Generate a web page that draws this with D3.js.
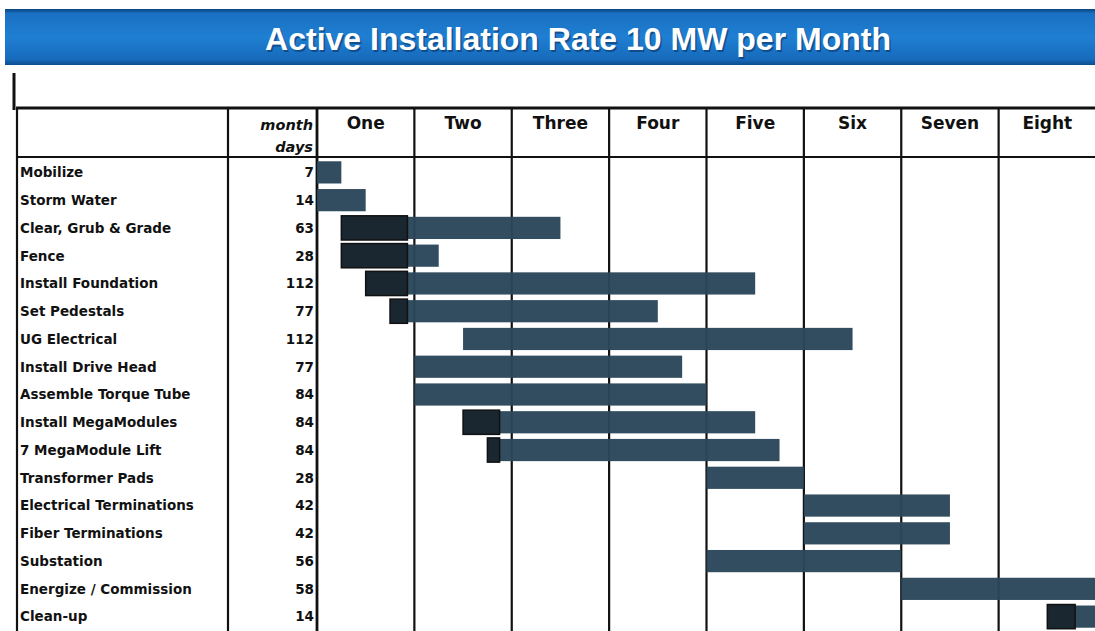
<!DOCTYPE html>
<html>
<head>
<meta charset="utf-8">
<script src="https://cdn.jsdelivr.net/npm/d3@7"></script>
<style>
  body { margin: 0; background: #fff; }
  svg { display: block; }
</style>
</head>
<body>
<div id="viz"></div>
<script>
const title = 'Active Installation Rate 10 MW per Month';
const months = ['One', 'Two', 'Three', 'Four', 'Five', 'Six', 'Seven', 'Eight'];
const tasks = ['Mobilize', 'Storm Water', 'Clear, Grub & Grade', 'Fence', 'Install Foundation',
  'Set Pedestals', 'UG Electrical', 'Install Drive Head', 'Assemble Torque Tube',
  'Install MegaModules', '7 MegaModule Lift', 'Transformer Pads', 'Electrical Terminations',
  'Fiber Terminations', 'Substation', 'Energize / Commission', 'Clean-up'];
const days = [7, 14, 63, 28, 112, 77, 112, 77, 84, 84, 84, 28, 42, 42, 56, 58, 14];
const starts = [0, 0, 7, 7, 14, 21, 42, 28, 28, 42, 49, 112, 140, 140, 112, 168, 210];
// dark label boxes left over on some bars (end day of box)
const tagTasks = ['Clear, Grub & Grade', 'Fence', 'Install Foundation', 'Set Pedestals',
  'Install MegaModules', '7 MegaModule Lift', 'Clean-up'];
const tagEnds = [26, 26, 26, 26, 52.5, 52.5, 218];
const daysPerMonth = 28;

(() => {
  let width = 1095, height = 631;
  let top = 108, headBottom = 157, left = 17, daysCol = 228, chartLeft = 317;

  let svg = d3.select('#viz')
    .append('svg')
    .attr('width', width)
    .attr('height', height);

  let total = months.length * daysPerMonth;

  let x = d3.scaleLinear()
    .domain([0, total])
    .range([chartLeft, width + 1]);

  let y = d3.scaleBand()
    .domain(tasks)
    .range([158.5, 630.5])
    .paddingInner(0.2)
    .paddingOuter(0.1);

  // title banner
  let grad = svg.append('defs')
    .append('linearGradient')
    .attr('id', 'banner')
    .attr('x1', 0).attr('y1', 0).attr('x2', 0).attr('y2', 1);
  [[0, '#0a4580'], [0.08, '#1a70c2'], [0.5, '#1f7fd2'], [0.9, '#176abb'], [1, '#0c4d8e']]
    .forEach(s => grad.append('stop').attr('offset', s[0]).attr('stop-color', s[1]));

  svg.append('rect')
    .attr('x', 5)
    .attr('y', 9)
    .attr('width', width - 5)
    .attr('height', 56)
    .attr('fill', 'url(#banner)');

  svg.append('text')
    .attr('x', 578 + 1.5)
    .attr('y', 50 + 1.5)
    .attr('text-anchor', 'middle')
    .style('font-family', 'Liberation Sans, Arial, sans-serif')
    .style('font-weight', 'bold')
    .style('font-size', '32px')
    .attr('fill', '#0b3566')
    .attr('opacity', 0.6)
    .text(title);

  svg.append('text')
    .attr('x', 578)
    .attr('y', 50)
    .attr('text-anchor', 'middle')
    .style('font-family', 'Liberation Sans, Arial, sans-serif')
    .style('font-weight', 'bold')
    .style('font-size', '32px')
    .attr('fill', '#fff')
    .text(title);

  // small black mark left of the table
  svg.append('rect')
    .attr('x', 12.5)
    .attr('y', 73)
    .attr('width', 3)
    .attr('height', 37)
    .attr('fill', '#111');

  let grid = svg.append('g')
    .attr('stroke', '#111');

  // month dividers
  grid.selectAll('.month-line')
    .data(d3.range(1, months.length))
    .join('line')
    .attr('class', 'month-line')
    .attr('x1', d => x(d * daysPerMonth))
    .attr('x2', d => x(d * daysPerMonth))
    .attr('y1', top)
    .attr('y2', height)
    .attr('stroke-width', 2.2);

  // fixed column borders
  grid.selectAll('.col-line')
    .data([left, daysCol, chartLeft])
    .join('line')
    .attr('class', 'col-line')
    .attr('x1', d => d)
    .attr('x2', d => d)
    .attr('y1', top)
    .attr('y2', height)
    .attr('stroke-width', (d, i) => i === 2 ? 2.8 : 2.2);

  grid.append('line')
    .attr('x1', left - 1)
    .attr('x2', width)
    .attr('y1', top)
    .attr('y2', top)
    .attr('stroke-width', 3);

  grid.append('line')
    .attr('x1', left - 1)
    .attr('x2', width)
    .attr('y1', headBottom)
    .attr('y2', headBottom)
    .attr('stroke-width', 2.2);

  // header texts
  svg.selectAll('.month-label')
    .data(months)
    .join('text')
    .attr('class', 'month-label')
    .attr('x', (d, i) => x(i * daysPerMonth + daysPerMonth / 2))
    .attr('y', 129)
    .attr('text-anchor', 'middle')
    .style('font-family', 'DejaVu Sans, Verdana, sans-serif')
    .style('font-weight', 'bold')
    .style('font-size', '17px')
    .attr('fill', '#111')
    .text(d => d);

  [['month', 130], ['days', 152]].forEach(h => {
    svg.append('text')
      .attr('x', 313)
      .attr('y', h[1])
      .attr('text-anchor', 'end')
      .style('font-family', 'DejaVu Sans, Verdana, sans-serif')
      .style('font-weight', 'bold')
      .style('font-style', 'italic')
      .style('font-size', '14.5px')
      .attr('fill', '#111')
      .text(h[0]);
  });

  // row labels and durations
  svg.selectAll('.task-label')
    .data(tasks)
    .join('text')
    .attr('class', 'task-label')
    .attr('x', 20)
    .attr('y', d => y(d) + y.bandwidth() / 2)
    .attr('dy', '.36em')
    .style('font-family', 'DejaVu Sans, Verdana, sans-serif')
    .style('font-weight', 'bold')
    .style('font-size', '13.5px')
    .attr('fill', '#111')
    .text(d => d);

  svg.selectAll('.days-label')
    .data(tasks)
    .join('text')
    .attr('class', 'days-label')
    .attr('x', 314)
    .attr('y', d => y(d) + y.bandwidth() / 2)
    .attr('dy', '.36em')
    .attr('text-anchor', 'end')
    .style('font-family', 'DejaVu Sans, Verdana, sans-serif')
    .style('font-weight', 'bold')
    .style('font-size', '13.5px')
    .attr('fill', '#111')
    .text((d, i) => days[i]);

  // bars
  svg.selectAll('.bar')
    .data(tasks)
    .join('rect')
    .attr('class', 'bar')
    .attr('x', (d, i) => x(starts[i]))
    .attr('y', d => y(d))
    .attr('width', (d, i) => x(Math.min(starts[i] + days[i], total)) - x(starts[i]))
    .attr('height', y.bandwidth())
    .attr('fill', '#2b475a')
    .attr('opacity', 0.97);

  svg.selectAll('.tag')
    .data(tagTasks)
    .join('rect')
    .attr('class', 'tag')
    .attr('x', (d, i) => x(starts[tasks.indexOf(d)]))
    .attr('y', d => y(d) - 1)
    .attr('width', (d, i) => x(tagEnds[i]) - x(starts[tasks.indexOf(d)]))
    .attr('height', y.bandwidth() + 2)
    .attr('fill', '#1a2730')
    .attr('stroke', '#111')
    .attr('stroke-width', 1.5);
})();
</script>
</body>
</html>
